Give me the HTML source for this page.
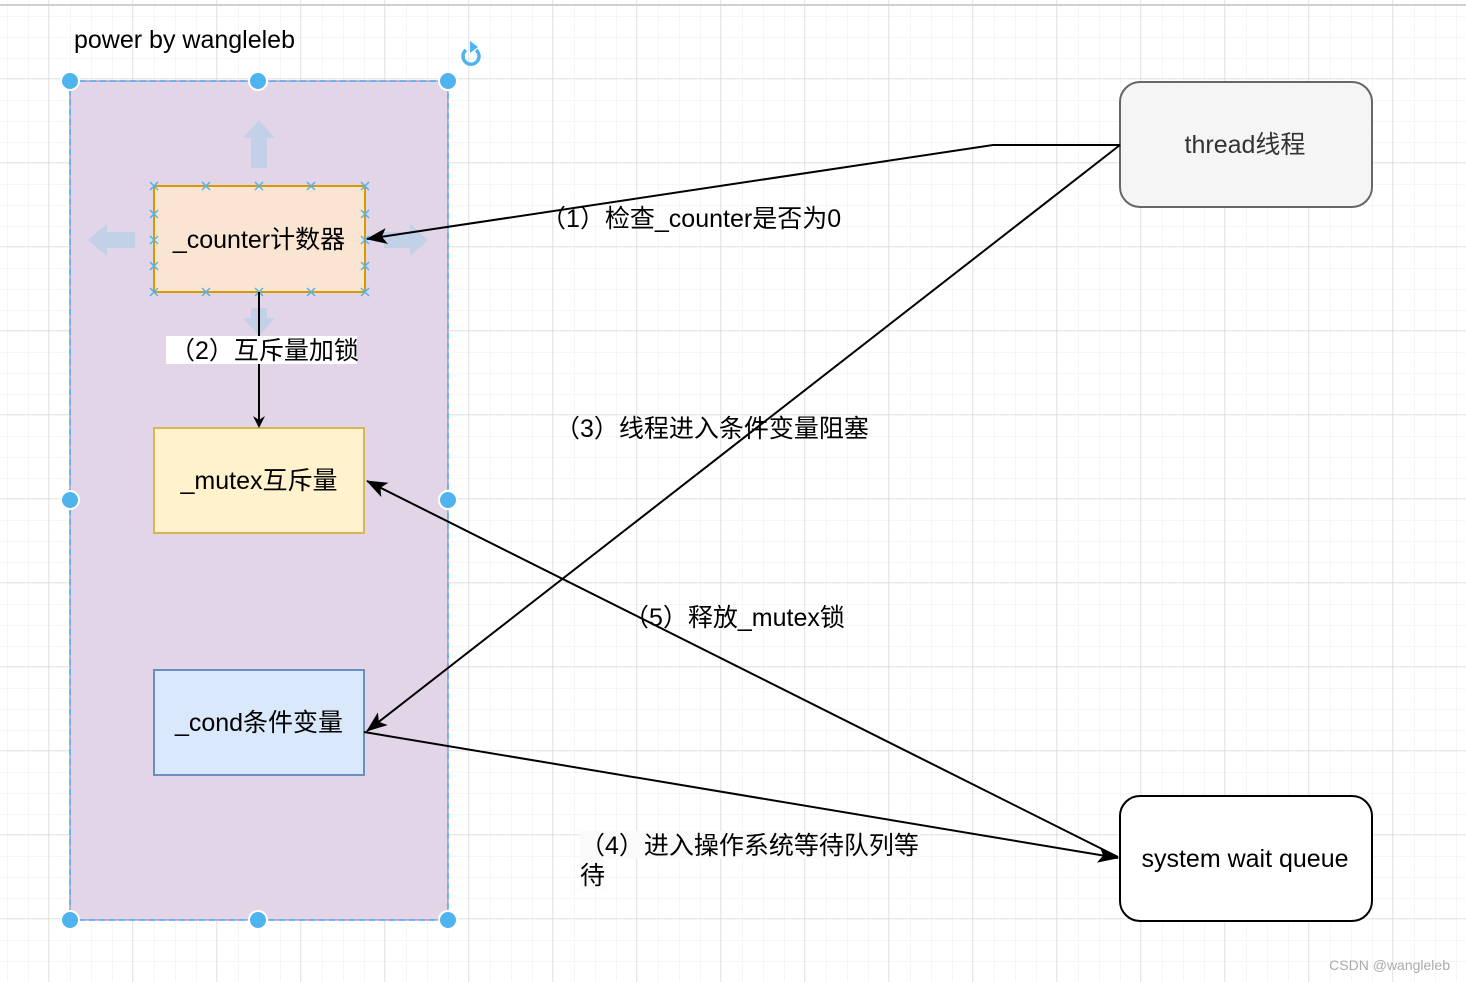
<!DOCTYPE html>
<html><head><meta charset="utf-8"><style>
html,body{margin:0;padding:0;background:#fff;}
svg{display:block;}
text{font-family:"Liberation Sans","Noto Sans CJK SC",sans-serif;}
</style></head><body>
<svg width="1466" height="982" viewBox="0 0 1466 982" xmlns="http://www.w3.org/2000/svg">
<defs>
<pattern id="minor" x="7" y="16" width="21" height="21" patternUnits="userSpaceOnUse">
<path d="M0 0H21M0 0V21" stroke="#ececec" stroke-width="1" fill="none"/>
</pattern>
<pattern id="major" x="48.5" y="78.5" width="84" height="84" patternUnits="userSpaceOnUse">
<path d="M0 0H84M0 0V84" stroke="#d0d0d0" stroke-width="1" fill="none"/>
</pattern>
<marker id="ar" markerWidth="12" markerHeight="12" refX="10" refY="6" orient="auto" markerUnits="userSpaceOnUse">
<path d="M0 0 L12 6 L0 12 L4 6 Z" fill="#000"/>
</marker>
<marker id="ar2" markerWidth="22" markerHeight="16" refX="20" refY="8" orient="auto" markerUnits="userSpaceOnUse">
<path d="M0 0 L21 8 L0 16 L5 8 Z" fill="#000"/>
</marker>
</defs>
<rect width="1466" height="982" fill="url(#minor)"/>
<rect width="1466" height="982" fill="url(#major)"/>
<line x1="0" y1="5" x2="1466" y2="5" stroke="#d0d0d0" stroke-width="2"/>

<text x="74" y="48" font-size="25" fill="#000">power by wangleleb</text>

<rect x="70" y="81" width="378" height="839" fill="#e1d5e7" stroke="#9673a6" stroke-width="1"/>
<rect x="70" y="81" width="378" height="839" fill="none" stroke="#3fa3f0" stroke-width="1.5" stroke-dasharray="6 4"/>

<g fill="#c2d0e8">
<path d="M251 168 V138 H243 L259 120 L275 138 H267 V168 Z"/>
<path d="M135 232 H107 V224 L88 240 L107 256 V248 H135 Z"/>
<path d="M384 232 H410 V224 L428 240 L410 256 V248 H384 Z"/>
<path d="M251 308 V318 H243 L259 336 L275 318 H267 V308 Z"/>
</g>

<rect x="154" y="186" width="211" height="106" fill="#fae5d3" stroke="#d79b00" stroke-width="2"/>
<text x="259" y="248" font-size="25" text-anchor="middle" fill="#000">_counter计数器</text>
<g stroke="#4fb3ee" stroke-width="1.5">
<path d="M150 182l8 8M158 182l-8 8 M202 182l8 8M210 182l-8 8 M255 182l8 8M263 182l-8 8 M307 182l8 8M315 182l-8 8 M361 182l8 8M369 182l-8 8"/>
<path d="M150 288l8 8M158 288l-8 8 M202 288l8 8M210 288l-8 8 M255 288l8 8M263 288l-8 8 M307 288l8 8M315 288l-8 8 M361 288l8 8M369 288l-8 8"/>
<path d="M150 210l8 8M158 210l-8 8 M150 236l8 8M158 236l-8 8 M150 262l8 8M158 262l-8 8"/>
<path d="M361 210l8 8M369 210l-8 8 M361 236l8 8M369 236l-8 8 M361 262l8 8M369 262l-8 8"/>
</g>

<rect x="154" y="428" width="210" height="105" fill="#fff2cc" stroke="#d6b656" stroke-width="2"/>
<text x="259" y="489" font-size="25" text-anchor="middle" fill="#000">_mutex互斥量</text>

<rect x="154" y="670" width="210" height="105" fill="#dae8fc" stroke="#6c8ebf" stroke-width="2"/>
<text x="259" y="731" font-size="25" text-anchor="middle" fill="#000">_cond条件变量</text>

<rect x="1120" y="82" width="252" height="125" rx="20" fill="#f5f5f5" stroke="#666" stroke-width="2"/>
<text x="1245" y="153" font-size="25" text-anchor="middle" fill="#333">thread线程</text>

<rect x="1120" y="796" width="252" height="125" rx="20" fill="#fff" stroke="#000" stroke-width="2"/>
<text x="1245" y="867" font-size="25" text-anchor="middle" fill="#000">system wait queue</text>

<g stroke="#000" stroke-width="2" fill="none">
<polyline points="1120,145 993,145 367,239" marker-end="url(#ar2)"/>
<line x1="259" y1="292" x2="259" y2="426" marker-end="url(#ar)"/>
<line x1="1120" y1="145" x2="367" y2="731" marker-end="url(#ar2)"/>
<line x1="364" y1="732" x2="1118" y2="858" marker-end="url(#ar2)"/>
<line x1="1118" y1="857" x2="367" y2="481" marker-end="url(#ar2)"/>
</g>

<rect x="166" y="336" width="191" height="28" fill="#fff"/>
<text x="170" y="359" font-size="25" fill="#000">（2）互斥量加锁</text>
<text x="541" y="227" font-size="25" fill="#000">（1）检查_counter是否为0</text>
<text x="555" y="437" font-size="25" fill="#000">（3）线程进入条件变量阻塞</text>
<text x="624" y="626" font-size="25" fill="#000">（5）释放_mutex锁</text>
<rect x="580" y="831" width="340" height="28" fill="#fafafa"/>
<rect x="580" y="859" width="24" height="30" fill="#fafafa"/>
<text x="580" y="854" font-size="25" fill="#000">（4）进入操作系统等待队列等</text>
<text x="580" y="884" font-size="25" fill="#000">待</text>

<g fill="#4fb3ee" stroke="#fff" stroke-width="2">
<circle cx="70" cy="81" r="9"/><circle cx="258" cy="81" r="9"/><circle cx="448" cy="81" r="9"/>
<circle cx="70" cy="500" r="9"/><circle cx="448" cy="500" r="9"/>
<circle cx="70" cy="920" r="9"/><circle cx="258" cy="920" r="9"/><circle cx="448" cy="920" r="9"/>
</g>
<path d="M476 50 A8 8 0 1 1 466 50" fill="none" stroke="#4fb3ee" stroke-width="3.5"/>
<path d="M470 41 L478 47 L470 53 Z" fill="#4fb3ee"/>

<text x="1450" y="970" font-size="14" text-anchor="end" fill="#aaa">CSDN @wangleleb</text>
</svg>
</body></html>
